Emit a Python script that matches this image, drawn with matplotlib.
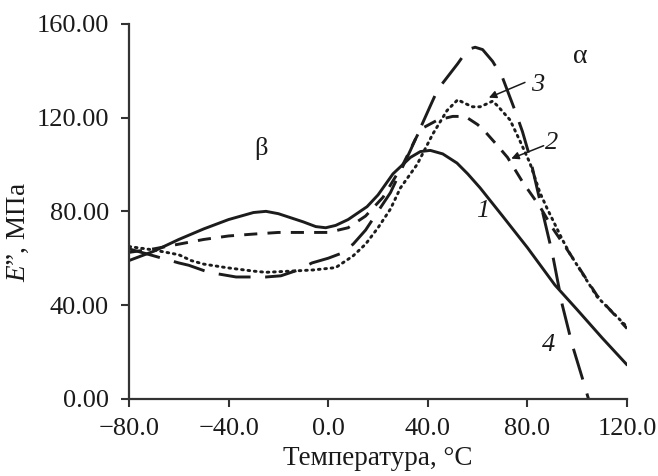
import matplotlib
matplotlib.use("Agg")
import matplotlib.pyplot as plt

plt.rcParams["font.family"] = ["Liberation Serif", "DejaVu Serif"]
plt.rcParams["mathtext.fontset"] = "custom"
plt.rcParams["mathtext.it"] = "Liberation Serif:italic"
plt.rcParams["mathtext.rm"] = "Liberation Serif"

# Loss modulus E'' (MPa) versus temperature (°C) for four samples
t1 = [-80, -70, -60, -50, -40, -30, -25, -20, -10, -5, -1, 3, 8, 15.6, 20, 26, 33, 37, 41, 46, 51.7, 56, 61, 70, 80, 91, 100, 110, 120]
e1 = [59, 63, 68, 72.5, 76.5, 79.5, 80, 79, 75.5, 73.5, 73, 74, 76.5, 82, 87, 96, 103, 105.5, 106, 104.5, 100.6, 96, 90, 78, 64.5, 48.6, 38, 26, 14.5]

t2 = [-80, -70, -60, -50, -40, -30, -20, -10, 0, 8, 15, 22, 30, 37, 44, 50, 55, 60, 63, 68, 72, 78, 85, 90, 97, 108, 120]
e2 = [62.5, 64, 66, 68, 69.5, 70.3, 71, 71, 71, 73, 78, 86, 100, 115, 119, 120.5, 120.5, 117, 114, 108, 103, 92.6, 82, 73, 62, 44, 30]

t3 = [-80, -70, -60, -55, -50, -41, -30, -25, -15, -6, 3, 10, 15, 20, 25, 29, 35.7, 42, 47.7, 52, 55, 58, 61, 64, 66, 68, 73, 77, 81, 85, 88, 94, 97, 108, 120]
e3 = [65, 63.5, 61.5, 59, 57.5, 56, 54.5, 54, 54.5, 55, 56, 61, 66, 73, 81, 90, 100, 113, 123, 127.6, 126, 124.6, 124.6, 126, 127, 125, 119, 110, 100.6, 88, 81, 68, 62, 43.5, 30.7]

t4 = [-80, -70, -60, -56, -48, -37, -25, -19, -12, -6.5, 0, 5, 10, 15, 20, 25, 33, 41, 44, 52, 56, 59, 62, 66, 70, 75, 78, 81, 86, 90, 94, 98, 102, 104.5]
e4 = [64, 61, 58, 57, 54, 52, 52, 52.5, 55, 58, 60, 62, 66, 72, 80, 88, 106, 125, 132, 143, 149, 150, 149, 144, 137, 123, 114, 103, 80, 62, 40, 23, 9, 0]

x_ticks = [-80, -40, 0, 40, 80, 120]
x_tick_labels = ["\u221280.0", "\u221240.0", "0.0", "40.0", "80.0", "120.0"]
y_ticks = [0, 40, 80, 120, 160]
y_tick_labels = ["0.00", "40.00", "80.00", "120.00", "160.00"]

fig = plt.figure(figsize=(6.58, 4.76), dpi=100)
ax = fig.add_axes([0.196, 0.162, 0.757, 0.788])

ink = "#1c1c1c"
ax.plot(t1, e1, color=ink, lw=2.1, solid_capstyle="round")
ax.plot(t2, e2, color=ink, lw=2.1, dashes=(4.5, 3.5))
ax.plot(t3, e3, color=ink, lw=2.1, linestyle=(0, (0.6, 1.6)), dash_capstyle="round")
ax.plot(t4, e4, color=ink, lw=2.1, dashes=(11, 5))

ax.set_xlim(-80, 120)
ax.set_ylim(0, 160)
ax.set_xticks(x_ticks)
ax.set_xticklabels(x_tick_labels)
ax.set_yticks(y_ticks)
ax.set_yticklabels(y_tick_labels)

for side in ("top", "right"):
    ax.spines[side].set_visible(False)
for side in ("left", "bottom"):
    ax.spines[side].set_linewidth(1.6)
    ax.spines[side].set_color("#333333")
ax.tick_params(axis="both", direction="out", length=6, width=1.5,
               labelsize=19, colors="#333333", labelcolor="#1a1a1a")
ax.tick_params(axis="y", pad=8.5)
ax.tick_params(axis="x", pad=8)

ax.set_xlabel("Температура, \u00b0C", fontsize=19.5, color="#1a1a1a")
ax.xaxis.set_label_coords(0.5, -0.125)
ax.set_ylabel("$E$\u201d, МПа", fontsize=19.5, color="#1a1a1a")
ax.yaxis.set_label_coords(-0.197, 0.445)

txt = dict(fontsize=19, color="#1a1a1a", ha="center", va="center")
ax.text(-27, 107, "\u03b2", **txt)
ax.text(101, 146, "\u03b1", fontsize=20, color="#1a1a1a", ha="center", va="center")
ax.text(62, 80, "1", style="italic", **txt)
ax.text(89.5, 109, "2", style="italic", **txt)
ax.text(84, 134, "3", style="italic", **txt)
ax.text(88.5, 23, "4", style="italic", **txt)

arrow = dict(arrowstyle="-|>", color="#1a1a1a", lw=1.1, mutation_scale=11, shrinkA=0, shrinkB=0)
ax.annotate("", xy=(64.5, 128.5), xytext=(79, 135), arrowprops=arrow)
ax.annotate("", xy=(73.5, 102.5), xytext=(86.5, 108), arrowprops=arrow)

fig.savefig("out.png", dpi=100)
